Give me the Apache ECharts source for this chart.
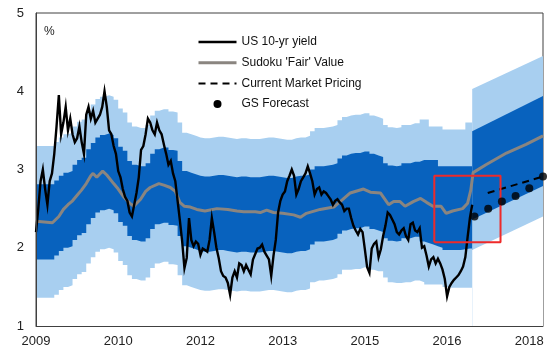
<!DOCTYPE html>
<html><head><meta charset="utf-8">
<script src="https://cdn.jsdelivr.net/npm/echarts@6/dist/echarts.min.js"></script>
<style>html,body{margin:0;padding:0;background:#fff}#c{width:560px;height:358px}</style>
</head><body><div id="c"></div>
<script>
// x values are months since Jan 2009
const xTickLabels = ['2009','2010','2012','2013','2015','2016','2018']; // every 18 months
const yTickValues = [1,2,3,4,5];

// US 10-yr yield, one reading every half month from month 0
const yieldStep = 0.5;
const yieldValues = [
2.2,2.5,2.85,3.0,2.75,2.55,2.85,2.95,3.2,3.55,3.95,3.45,3.6,3.8,3.5,3.65,3.45,3.35,3.4,3.55,3.35,3.2,3.7,3.8,
3.65,3.75,3.6,3.65,3.7,3.8,4.0,3.8,3.5,3.45,3.3,3.2,2.98,2.9,2.75,2.65,2.6,2.45,2.4,2.55,2.7,2.9,3.25,3.3,
3.45,3.65,3.6,3.5,3.45,3.6,3.5,3.45,3.32,3.2,3.06,3.11,2.95,2.85,2.6,2.35,2.08,1.74,1.87,2.38,2.1,2.02,2.08,2.05,
1.91,1.99,1.97,1.95,2.1,2.38,2.2,2.0,1.87,1.7,1.64,1.62,1.55,1.40,1.62,1.7,1.62,1.8,1.78,1.70,1.78,1.72,1.66,1.85,
1.92,1.99,2.0,2.04,1.95,1.9,1.85,1.64,1.9,2.1,2.45,2.6,2.68,2.72,2.85,2.92,3.0,2.92,2.68,2.75,2.85,2.9,2.95,3.04,
2.95,2.85,2.68,2.75,2.77,2.68,2.72,2.7,2.66,2.62,2.55,2.6,2.62,2.58,2.55,2.47,2.5,2.5,2.38,2.28,2.22,2.17,2.24,2.2,
1.98,1.75,1.68,1.99,2.05,2.08,1.88,1.98,2.15,2.28,2.45,2.42,2.36,2.3,2.2,2.17,2.22,2.25,2.15,2.1,2.3,2.32,2.22,2.2,
2.25,2.0,2.02,1.9,1.76,1.85,1.88,1.8,1.86,1.8,1.72,1.6,1.38,1.5,1.55,1.59,1.62,1.65,1.7,1.76,1.88,2.14,2.38,2.55
];

// Sudoku 'Fair' Value
const fairMonths = [0,3.6,5,6,7,8,9,10,11,12,12.5,13.3,14.6,15.5,17,18,19.2,20.5,21.4,22.9,24,25,26.9,28,29.4,30.5,31.5,32.5,33.8,35.2,37,39.6,42,44,45.5,48,49.1,50.5,52,54,56.4,57.9,59.2,62.2,65.2,66.6,68.8,71.7,73.2,75.4,77.2,78.3,79.7,80.8,82.6,84.2,85.5,86.9,88.7,89.8,91.2,93.4,94.5,95.2,95.7,98.5,103,107.3,111];
const fairValues = [2.34,2.32,2.40,2.49,2.55,2.60,2.67,2.74,2.82,2.92,2.95,2.90,2.98,2.93,2.82,2.75,2.65,2.57,2.53,2.62,2.72,2.77,2.82,2.80,2.77,2.72,2.58,2.53,2.52,2.49,2.47,2.50,2.49,2.47,2.46,2.46,2.45,2.48,2.45,2.44,2.42,2.39,2.44,2.49,2.52,2.59,2.70,2.75,2.71,2.70,2.55,2.59,2.59,2.53,2.59,2.63,2.58,2.53,2.53,2.44,2.47,2.50,2.57,2.74,2.96,3.06,3.21,3.32,3.43];

// Historical uncertainty bands, one value per month (month 0..95), held to month 95.5
const bandEnd = 95.5;
const outerUpper = [3.30,3.30,3.30,3.30,3.35,3.41,3.45,3.47,3.55,3.61,3.64,3.75,3.83,3.90,3.93,3.95,3.93,3.89,3.78,3.73,3.60,3.55,3.53,3.53,3.57,3.69,3.75,3.77,3.77,3.74,3.73,3.60,3.47,3.45,3.43,3.41,3.40,3.40,3.41,3.42,3.42,3.41,3.40,3.39,3.40,3.40,3.39,3.39,3.39,3.40,3.41,3.41,3.40,3.39,3.38,3.38,3.40,3.41,3.41,3.43,3.49,3.53,3.53,3.54,3.55,3.57,3.63,3.67,3.69,3.70,3.70,3.72,3.72,3.69,3.67,3.65,3.57,3.54,3.53,3.54,3.57,3.57,3.59,3.59,3.64,3.64,3.55,3.55,3.55,3.51,3.51,3.51,3.51,3.51,3.60,3.60];
const innerUpper = [2.81,2.81,2.81,2.81,2.86,2.92,2.96,2.98,3.06,3.12,3.15,3.26,3.34,3.41,3.44,3.46,3.44,3.40,3.29,3.24,3.11,3.06,3.04,3.04,3.08,3.20,3.26,3.28,3.28,3.25,3.24,3.11,2.98,2.96,2.94,2.92,2.91,2.91,2.92,2.93,2.93,2.92,2.91,2.90,2.91,2.91,2.90,2.90,2.90,2.91,2.92,2.92,2.91,2.90,2.89,2.89,2.91,2.92,2.92,2.94,3.00,3.04,3.04,3.05,3.06,3.08,3.14,3.18,3.20,3.21,3.21,3.23,3.23,3.20,3.18,3.16,3.08,3.05,3.04,3.05,3.08,3.08,3.10,3.10,3.12,3.12,3.12,3.12,3.04,3.04,3.04,3.04,3.04,3.04,3.04,3.04];
const innerLower = [1.85,1.85,1.85,1.85,1.90,1.96,2.00,2.02,2.10,2.16,2.19,2.30,2.38,2.45,2.48,2.50,2.48,2.44,2.33,2.28,2.15,2.10,2.08,2.08,2.12,2.24,2.30,2.32,2.32,2.29,2.28,2.15,2.02,2.00,1.98,1.96,1.95,1.95,1.96,1.97,1.97,1.96,1.95,1.94,1.95,1.95,1.94,1.94,1.94,1.95,1.96,1.96,1.95,1.94,1.93,1.93,1.95,1.96,1.96,1.98,2.04,2.08,2.08,2.09,2.10,2.12,2.18,2.22,2.24,2.25,2.25,2.27,2.27,2.24,2.22,2.20,2.12,2.09,2.08,2.09,2.12,2.12,2.14,2.14,2.08,2.06,2.04,2.02,2.00,1.97,1.97,1.97,1.97,1.98,1.99,1.99];
const outerLower = [1.36,1.36,1.36,1.36,1.40,1.46,1.50,1.52,1.60,1.66,1.69,1.80,1.88,1.95,1.98,2.00,1.98,1.94,1.83,1.78,1.65,1.60,1.58,1.58,1.62,1.74,1.80,1.82,1.82,1.79,1.78,1.65,1.52,1.50,1.48,1.46,1.45,1.45,1.46,1.47,1.47,1.46,1.45,1.44,1.45,1.45,1.44,1.44,1.44,1.45,1.46,1.46,1.45,1.44,1.43,1.43,1.45,1.46,1.46,1.48,1.56,1.58,1.58,1.59,1.60,1.62,1.66,1.72,1.72,1.73,1.73,1.75,1.75,1.72,1.70,1.70,1.62,1.56,1.55,1.55,1.56,1.56,1.58,1.58,1.56,1.53,1.53,1.53,1.53,1.50,1.49,1.49,1.49,1.49,1.49,1.49];

// Forecast bands
const fcMonths = [95.5, 111];
const fcOuterUpper = [4.03, 4.45];
const fcInnerUpper = [3.49, 3.94];
const fcInnerLower = [2.36, 2.79];
const fcOuterLower = [1.97, 2.40];

// Current market pricing
const mktMonths = [98.9, 111];
const mktValues = [2.70, 2.91];

// GS forecast (quarterly)
const gsMonths = [96, 99, 102, 105, 108, 111];
const gsValues = [2.40, 2.50, 2.59, 2.66, 2.76, 2.91];

// highlighted box
const boxMonths = [87.2, 101.7];
const boxValues = [2.07, 2.92];

const LIGHT = '#A8CFF0', DARK = '#0862BE';
const FONT = 'Liberation Sans, Arial, sans-serif';

function histBand(arr){ const d = arr.map((v,i)=>[i,v]); d.push([bandEnd, arr[arr.length-1]]); return d; }
function fcBand(arr){ return arr.map((v,i)=>[fcMonths[i], v]); }
function area(name, data, color, step){
  return {name, type:'line', data, step: step ? 'end' : false, showSymbol:false, symbol:'none', silent:true,
    lineStyle:{width:0}, areaStyle:{color, opacity:1, origin:'start'}, z:1};
}

const boxData = [[boxMonths[0], boxValues[0]],[boxMonths[1], boxValues[0]],[boxMonths[1], boxValues[1]],[boxMonths[0], boxValues[1]],[boxMonths[0], boxValues[0]]];

const series = [
  area('b1', histBand(outerUpper), LIGHT, true),
  area('b2', histBand(innerUpper), DARK, true),
  area('b3', histBand(innerLower), LIGHT, true),
  area('b4', histBand(outerLower), '#ffffff', true),
  area('f1', fcBand(fcOuterUpper), LIGHT, false),
  area('f2', fcBand(fcInnerUpper), DARK, false),
  area('f3', fcBand(fcInnerLower), LIGHT, false),
  area('f4', fcBand(fcOuterLower), '#ffffff', false),
  {name:"Sudoku 'Fair' Value", type:'line', data: fairMonths.map((m,i)=>[m, fairValues[i]]), showSymbol:false, symbol:'none',
    lineStyle:{color:'#8a8580', width:3}, itemStyle:{color:'#8a8580'}, z:3},
  {name:'US 10-yr yield', type:'line', data: yieldValues.map((v,i)=>[i*yieldStep, v]), showSymbol:false, symbol:'none',
    lineStyle:{color:'#000', width:2.4, join:'miter'}, itemStyle:{color:'#000'}, z:4},
  {name:'Current Market Pricing', type:'line', data: mktMonths.map((m,i)=>[m, mktValues[i]]), showSymbol:false, symbol:'none',
    lineStyle:{color:'#000', width:2, type:[7,5]}, itemStyle:{color:'#000'}, z:4},
  {name:'GS Forecast', type:'scatter', data: gsMonths.map((m,i)=>[m, gsValues[i]]), symbolSize:8,
    itemStyle:{color:'#000'}, z:5},
  {name:'box', type:'line', data: boxData, showSymbol:false, symbol:'none', silent:true,
    lineStyle:{color:'#EE2A2A', width:2}, z:5}
];

const chart = echarts.init(document.getElementById('c'), null, {renderer:'canvas'});
chart.setOption({
  animation:false,
  backgroundColor:'#fff',
  textStyle:{fontFamily:FONT},
  title:{text:'%', left:44, top:26, padding:0, textStyle:{fontSize:12, fontWeight:'normal', color:'#222', fontFamily:FONT}},
  grid:{left:36, right:17, top:13, bottom:32, show:true, borderColor:'#404040', borderWidth:1, backgroundColor:'transparent', outerBoundsMode:'none'},
  legend:{orient:'vertical', left:197, top:35, padding:0, itemWidth:38, itemHeight:8, itemGap:6.7,
    textStyle:{fontSize:12, color:'#111', fontFamily:FONT, lineHeight:14},
    itemStyle:{opacity:0},
    data:[
      {name:'US 10-yr yield', lineStyle:{width:2.5}},
      {name:"Sudoku 'Fair' Value", lineStyle:{width:3}},
      {name:'Current Market Pricing', lineStyle:{width:2, type:[7,5]}},
      {name:'GS Forecast', icon:'circle', itemStyle:{opacity:1, color:'#000'}}
    ]},
  xAxis:{type:'value', min:0, max:111, interval:18, z:6,
    axisLine:{show:true, lineStyle:{color:'#404040', width:1}}, axisTick:{show:false}, splitLine:{show:false},
    axisLabel:{margin:9, fontSize:13, color:'#222', fontFamily:FONT, showMaxLabel:false,
      formatter:(v)=> (v % 18 === 0 ? xTickLabels[v/18] : '')}},
  yAxis:{type:'value', min:yTickValues[0], max:yTickValues[yTickValues.length-1], interval:1, z:6,
    axisLine:{show:true, lineStyle:{color:'#404040', width:1}}, axisTick:{show:false}, splitLine:{show:false},
    axisLabel:{margin:12, fontSize:13, color:'#222', fontFamily:FONT}},
  series
});
</script></body></html>
